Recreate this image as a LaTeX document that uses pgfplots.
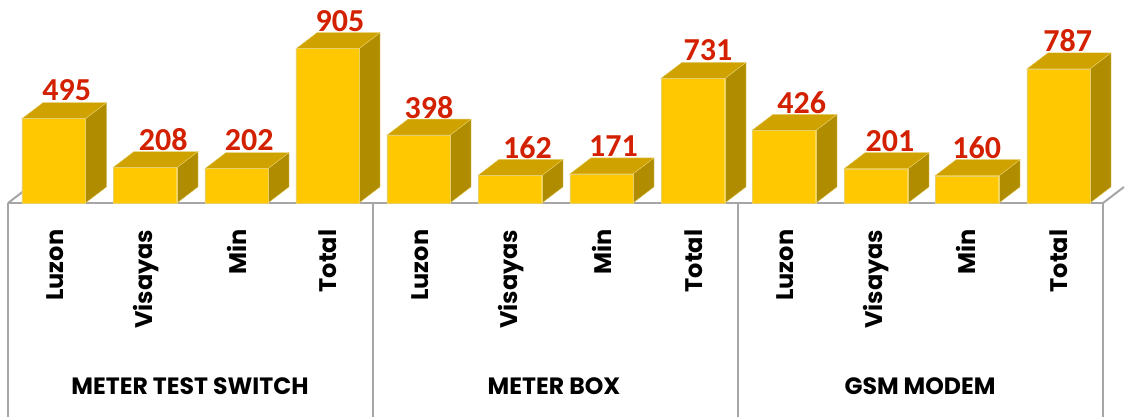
\documentclass[border=0pt]{standalone}
\usepackage{pgfplots}
\usepackage{pgfplotstable}
\usepackage{fontspec}
\pgfplotsset{compat=1.18}
\setmainfont{Poppins}
\newfontfamily\numfont{Carlito}[Scale=1]
\definecolor{front}{HTML}{FFC800}
\definecolor{topf}{HTML}{CFA200}
\definecolor{sidef}{HTML}{B08C00}
\definecolor{edgec}{HTML}{E6CF6A}
\definecolor{axisc}{HTML}{A6A6A6}
\definecolor{numc}{HTML}{D22000}
% bar left edge, right edge, centre of the value label, value
\pgfplotstableread{
xc xl xr lx v
53.7 22 85.5 66.7 495
145 113 177 163.3 208
236.5 205 268 249.3 202
327.5 296 359 340 905
418.5 387 450 429 398
510 478 542 527.5 162
601.5 570 633 613.5 171
693 661 725 708 731
784 752 816 801.7 426
876 844 908 890 201
967 935 999 976.7 160
1058.5 1027 1090 1067.7 787
}\bars
\newcommand\threeD[3]{%
  \pgfmathsetmacro\xa{#1+21}\pgfmathsetmacro\xb{#2+21}\pgfmathsetmacro\vb{#3+94}%
  \edef\tmp{\noexpand\addplot[fill=sidef,draw=edgec,line width=0.3pt] coordinates {(#2,0) (\xb,94) (\xb,\vb) (#2,#3)} --cycle;
  \noexpand\addplot[fill=topf,draw=edgec,line width=0.3pt] coordinates {(#1,#3) (\xa,\vb) (\xb,\vb) (#2,#3)} --cycle;}\tmp}
\begin{document}
\begin{tikzpicture}
\useasboundingbox (0,0) rectangle (843.75pt,313.5pt);
\begin{axis}[
  at={(6pt,161.25pt)}, anchor=south west,
  x=0.75pt, y=0.12788pt,
  xmin=8, xmax=1103, ymin=0, ymax=1190,
  clip=false,
  axis x line=bottom, axis y line=none,
  x axis line style={draw=axisc, line width=1.5pt, -},
  major tick length=0pt,
  xtick={55,146,237,328,420,511,602,694,785,876,966,1059},
  xticklabels={Luzon,Visayas,Min,Total,Luzon,Visayas,Min,Total,Luzon,Visayas,Min,Total},
  xticklabel style={rotate=90, anchor=east, xshift=-16.5pt, font=\fontsize{18}{20}\selectfont\bfseries, text=black},
]
% walls and dividers
\addplot[axisc,line width=1.5pt] coordinates {(8,0) (29,94)};
\addplot[axisc,line width=1.5pt] coordinates {(1103,0) (1124,94)};
\addplot[axisc,line width=1.5pt] coordinates {(8,0) (8,-1255)};
\addplot[axisc,line width=1.5pt] coordinates {(373,0) (373,-1255)};
\addplot[axisc,line width=1.5pt] coordinates {(738,0) (738,-1255)};
\addplot[axisc,line width=1.5pt] coordinates {(1103,0) (1103,-1255)};
% depth faces
\threeD{22}{85.5}{495}
\threeD{113}{177}{208}
\threeD{205}{268}{202}
\threeD{296}{359}{905}
\threeD{387}{450}{398}
\threeD{478}{542}{162}
\threeD{570}{633}{171}
\threeD{661}{725}{731}
\threeD{752}{816}{426}
\threeD{844}{908}{201}
\threeD{935}{999}{160}
\threeD{1027}{1090}{787}
% front faces
\addplot[ybar, bar width=47.6pt, fill=front, draw=edgec, line width=0.3pt] table[x=xc,y=v] {\bars};
% value labels
\addplot[draw=none, mark=none, nodes near coords, point meta=explicit symbolic,
  nodes near coords style={anchor=center, yshift=21pt, font=\numfont\fontsize{24}{28}\selectfont\bfseries, text=numc}]
  table[x=lx,y=v,meta=v] {\bars};
\node[font=\fontsize{17.7}{20}\selectfont\bfseries] at (axis cs:190,-1073) {METER TEST SWITCH};
\node[font=\fontsize{17.7}{20}\selectfont\bfseries] at (axis cs:554,-1073) {METER BOX};
\node[font=\fontsize{17.7}{20}\selectfont\bfseries] at (axis cs:920,-1073) {GSM MODEM};
\end{axis}
\end{tikzpicture}
\end{document}
